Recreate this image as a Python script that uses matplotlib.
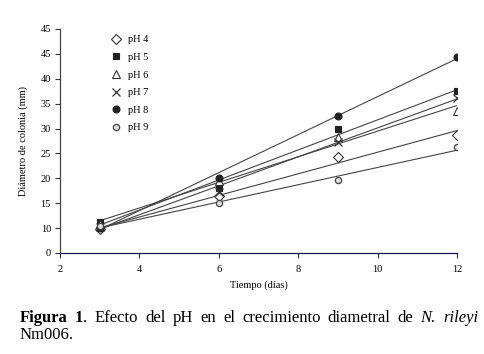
import numpy as np
import matplotlib
matplotlib.use("Agg")
import matplotlib.pyplot as plt
from matplotlib.lines import Line2D

days = [3, 6, 9, 12]
labels = ["pH 4", "pH 5", "pH 6", "pH 7", "pH 8", "pH 9"]
ph4 = [9.7, 16.5, 24.3, 28.8]
ph5 = [11.3, 18.0, 30.0, 37.5]
ph6 = [10.8, 19.5, 28.3, 33.6]
ph7 = [10.2, 17.3, 27.3, 36.2]
ph8 = [10.0, 20.0, 32.6, 44.3]
ph9 = [10.5, 15.0, 19.6, 26.3]
ytick_vals = [0, 10, 15, 20, 25, 30, 35, 40, 45, 50]
ytick_labels = ["0", "10", "15", "20", "25", "30", "35", "40", "45", "45"]
xtick_vals = [2, 4, 6, 8, 10, 12]

series = [ph4, ph5, ph6, ph7, ph8, ph9]
styles = [
    dict(marker="D", mfc="white", mec="#333333", ms=5.5, mew=0.8),
    dict(marker="s", mfc="#222222", mec="#222222", ms=5, mew=0.8),
    dict(marker="^", mfc="white", mec="#333333", ms=6, mew=0.8),
    dict(marker="x", mfc="none", mec="#333333", ms=6, mew=0.9),
    dict(marker="o", mfc="#222222", mec="#222222", ms=5, mew=0.8),
    dict(marker="o", mfc="#dddddd", mec="#444444", ms=4.5, mew=0.9),
]

plt.rcParams["font.family"] = ["Liberation Serif", "DejaVu Serif"]

fig = plt.figure(figsize=(4.85, 3.54), dpi=100)
ax = fig.add_axes([60 / 485, 1 - 253 / 354, (457 - 60) / 485, (253 - 29) / 354])

def fwd(v):
    v = np.asarray(v, dtype=float)
    return np.where(v < 10, v / 2.0, v - 5.0)

def inv(u):
    u = np.asarray(u, dtype=float)
    return np.where(u < 5, u * 2.0, u + 5.0)

ax.set_yscale("function", functions=(fwd, inv))

xs = np.array(days, dtype=float)
for ys, st in zip(series, styles):
    ys = np.array(ys, dtype=float)
    k, b = np.polyfit(xs, ys, 1)
    xl = np.array([xs[0], xs[-1]])
    ax.plot(xl, k * xl + b, color="#444444", lw=0.8, zorder=2)
    ax.plot(xs, ys, ls="none", zorder=3, **st)

ax.set_xlim(2, 12)
ax.set_ylim(0, 50)
ax.set_xticks(xtick_vals)
ax.set_yticks(ytick_vals)
ax.set_yticklabels(ytick_labels)
ax.yaxis.set_minor_locator(matplotlib.ticker.NullLocator())
ax.tick_params(axis="both", labelsize=7.5, length=3.5, width=0.8, color="#333333", pad=3)
ax.tick_params(axis="x", pad=5)
ax.spines["top"].set_visible(False)
ax.spines["right"].set_visible(False)
ax.spines["bottom"].set_color("#1a1a50")
ax.spines["left"].set_color("#444444")
ax.spines["bottom"].set_linewidth(0.9)
ax.spines["left"].set_linewidth(0.9)
ax.set_xlabel("Tiempo (días)", fontsize=7.5, labelpad=5)
ax.set_ylabel("Diámetro de colonia (mm)", fontsize=7.5, labelpad=9)

handles = [Line2D([], [], ls="none", **st) for st in styles]
fig.legend(handles, labels, loc="upper left", bbox_to_anchor=(111 / 485, 1 - 35 / 354),
           frameon=False, fontsize=7.5, handlelength=1.0, handletextpad=0.6,
           labelspacing=0.8, borderpad=0, borderaxespad=0)

# Caption (justified first line)
fig.canvas.draw()
renderer = fig.canvas.get_renderer()
tokens = [
    [("Figura", "bold", "normal")],
    [("1", "bold", "normal"), (".", "normal", "normal")],
    [("Efecto", "normal", "normal")], [("del", "normal", "normal")], [("pH", "normal", "normal")],
    [("en", "normal", "normal")], [("el", "normal", "normal")], [("crecimiento", "normal", "normal")],
    [("diametral", "normal", "normal")], [("de", "normal", "normal")],
    [("N.", "normal", "italic")], [("rileyi", "normal", "italic")],
]
fs = 12
x0, x1 = 20.0, 478.0
y_line1 = 1 - 322 / 354
texts = []
widths = []
for tok in tokens:
    w = 0
    parts = []
    for s, wt, sty in tok:
        t = fig.text(0, y_line1, s, fontsize=fs, fontweight=wt, fontstyle=sty, va="baseline")
        bb = t.get_window_extent(renderer)
        parts.append((t, bb.width))
        w += bb.width
    texts.append(parts)
    widths.append(w)
gap = (x1 - x0 - sum(widths)) / (len(tokens) - 1)
cx = x0
for parts, w in zip(texts, widths):
    px = cx
    for t, pw in parts:
        t.set_x(px / 485)
        px += pw
    cx += w + gap
fig.text(x0 / 485, 1 - 339 / 354, "Nm006.", fontsize=fs, va="baseline")

fig.savefig("out.png", dpi=100)
